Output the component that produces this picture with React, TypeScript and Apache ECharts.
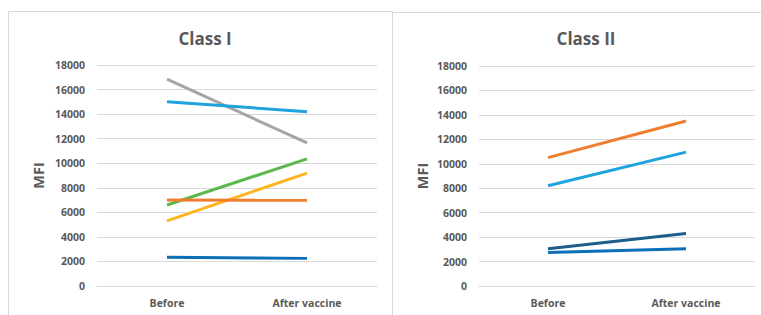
import React, { useEffect, useRef } from "react";
import * as echarts from "echarts";

const categories = ["Before", "After vaccine"];
const yTicks = [0, 2000, 4000, 6000, 8000, 10000, 12000, 14000, 16000, 18000];

// Class I series (Before, After vaccine)
const class1Gray = [16850, 11650];
const class1LightBlue = [15000, 14200];
const class1Green = [6600, 10350];
const class1Yellow = [5300, 9200];
const class1Orange = [7000, 6980];
const class1Blue = [2350, 2250];

// Class II series
const class2Orange = [10500, 13500];
const class2LightBlue = [8200, 10950];
const class2Navy = [3050, 4300];
const class2Blue = [2750, 3050];

const FONT = "Open Sans";
const TEXT = "#595959";
const GRID = "#d9d9d9";

export default function App() {
  const ref = useRef<HTMLDivElement>(null);
  useEffect(() => {
    if (!ref.current) return;
    const chart = echarts.init(ref.current, undefined, { renderer: "svg" });
    const yAxisBase = (gridIndex: number, gap: number) => ({
      type: "value",
      gridIndex,
      min: yTicks[0],
      max: yTicks[yTicks.length - 1],
      interval: 2000,
      name: "MFI",
      nameLocation: "middle",
      nameRotate: 90,
      nameGap: gap,
      nameTextStyle: { fontFamily: FONT, fontWeight: "bold", fontSize: 14.5, color: TEXT },
      axisLine: { show: false },
      axisTick: { show: false },
      axisLabel: {
        fontFamily: FONT,
        fontWeight: "bold",
        fontSize: 10.5,
        color: TEXT,
        margin: 12,
        formatter: (v: number) => String(v),
      },
      splitLine: { lineStyle: { color: GRID, width: 1 } },
    });
    const xAxisBase = (gridIndex: number) => ({
      type: "category",
      gridIndex,
      data: categories,
      boundaryGap: true,
      axisLine: { lineStyle: { color: GRID, width: 1 } },
      axisTick: { show: false },
      axisLabel: { fontFamily: FONT, fontWeight: "bold", fontSize: 10.5, color: TEXT, margin: 11 },
    });
    const line = (name: string, data: number[], color: string, idx: number) => ({
      name,
      type: "line",
      xAxisIndex: idx,
      yAxisIndex: idx,
      data,
      symbol: "none",
      lineStyle: { color, width: 3 },
      itemStyle: { color },
    });
    chart.setOption({
      animation: false,
      backgroundColor: "#ffffff",
      title: [
        {
          text: "Class I",
          left: 200,
          top: 25,
          textAlign: "center",
          textStyle: { fontFamily: FONT, fontWeight: "bold", fontSize: 17, color: TEXT },
        },
        {
          text: "Class II",
          left: 581,
          top: 25,
          textAlign: "center",
          textStyle: { fontFamily: FONT, fontWeight: "bold", fontSize: 17, color: TEXT },
        },
      ],
      graphic: [
        {
          type: "rect",
          shape: { x: 8.5, y: 11.5, width: 384, height: 320 },
          style: { fill: "none", stroke: GRID, lineWidth: 1 },
          silent: true,
        },
        {
          type: "rect",
          shape: { x: 392.5, y: 12.5, width: 380, height: 320 },
          style: { fill: "none", stroke: GRID, lineWidth: 1 },
          silent: true,
        },
      ],
      grid: [
        { left: 97, right: 384, top: 65, bottom: 29 },
        { left: 479, right: 6, top: 66, bottom: 29 },
      ],
      xAxis: [xAxisBase(0), xAxisBase(1)],
      yAxis: [yAxisBase(0, 51), yAxisBase(1, 49)],
      series: [
        line("Series A", class1Gray, "#a5a5a5", 0),
        line("Series B", class1LightBlue, "#1fa3de", 0),
        line("Series C", class1Green, "#5bb84a", 0),
        line("Series D", class1Yellow, "#ffb520", 0),
        line("Series E", class1Orange, "#f07d2f", 0),
        line("Series F", class1Blue, "#0b6fb8", 0),
        line("Series G", class2Orange, "#f07d2f", 1),
        line("Series H", class2LightBlue, "#1fa3de", 1),
        line("Series I", class2Navy, "#1c5d8c", 1),
        line("Series J", class2Blue, "#0b70ba", 1),
      ],
    });
    return () => chart.dispose();
  }, []);
  return (
    <div
      ref={ref}
      style={{ position: "fixed", left: 0, top: 0, width: 761, height: 315, background: "#fff" }}
    />
  );
}
